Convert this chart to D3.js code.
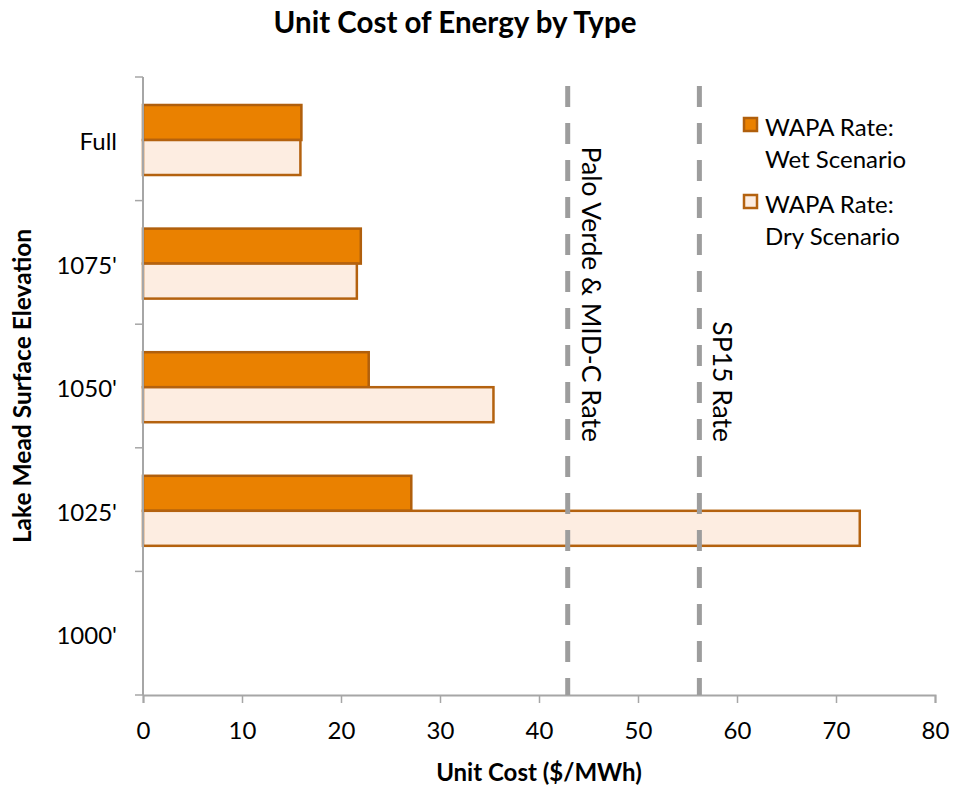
<!DOCTYPE html>
<html>
<head>
<meta charset="utf-8">
<script src="https://cdn.jsdelivr.net/npm/d3@7/dist/d3.min.js"></script>
<style>
  html, body { margin: 0; padding: 0; background: #fff; }
  svg text { font-family: Lato, "Open Sans", sans-serif; fill: #000; }
</style>
</head>
<body>
<svg id="chart" width="953" height="788"></svg>
<script>
// Lake Mead elevation levels (top to bottom)
const categories = ["Full", "1075'", "1050'", "1025'", "1000'"];
// WAPA unit cost, $/MWh (no value at 1000')
const wetValues = [16.0, 22.0, 22.8, 27.1, null];
const dryValues = [15.9, 21.6, 35.4, 72.4, null];
const seriesNames = ["WAPA Rate: Wet Scenario", "WAPA Rate: Dry Scenario"];
const legendLines = [["WAPA Rate:", "Wet Scenario"], ["WAPA Rate:", "Dry Scenario"]];
// Market reference rates, $/MWh
const refRates = [42.9, 56.2];
const refLabels = ["Palo Verde & MID-C Rate", "SP15 Rate"];
const xTicks = [0, 10, 20, 30, 40, 50, 60, 70, 80];

const svg = d3.select("#chart");
const plot = { left: 143, right: 935, top: 77, bottom: 695 };

const x = d3.scaleLinear().domain([0, 80]).range([plot.left, plot.right]);
const y = d3.scaleBand().domain(categories).range([plot.top, plot.bottom]).padding(0);
const bw = y.bandwidth();
const sub = d3.scaleBand().domain([0, 1]).range([bw * 0.2265, bw * 0.793]).padding(0);

const fills = ["#EA8100", "#FDEDE1"];
const strokes = ["#B05F0C", "#B4620F"];
const axisColor = "#A6A6A6";

// Title
svg.append("text")
  .attr("x", 455).attr("y", 33)
  .attr("text-anchor", "middle")
  .attr("font-size", 29.5).attr("font-weight", "bold")
  .text("Unit Cost of Energy by Type");

// Bars
const series = [wetValues, dryValues];
series.forEach((vals, si) => {
  svg.append("g").selectAll("rect")
    .data(categories.map((c, i) => ({ c, v: vals[i] })).filter(d => d.v != null))
    .join("rect")
    .attr("x", x(0))
    .attr("y", d => y(d.c) + sub(si))
    .attr("width", d => x(d.v) - x(0))
    .attr("height", sub.bandwidth())
    .attr("fill", fills[si])
    .attr("stroke", strokes[si])
    .attr("stroke-width", 2.5);
});

// X axis
const xAxis = d3.axisBottom(x).tickValues(xTicks).tickSize(8).tickPadding(19);
const gx = svg.append("g").attr("transform", `translate(0,${plot.bottom})`).call(xAxis);
gx.select(".domain").attr("stroke", axisColor).attr("stroke-width", 2);
gx.selectAll(".tick line").attr("stroke", axisColor).attr("stroke-width", 1.5);
gx.selectAll(".tick text").attr("font-size", 24).attr("font-family", "Lato, sans-serif").attr("fill", "#000");

// Y axis: labels centred in bands, ticks on band boundaries
const yAxis = d3.axisLeft(y).tickSize(0).tickPadding(26);
const gy = svg.append("g").attr("transform", `translate(${plot.left},0)`).call(yAxis);
gy.select(".domain").remove();
gy.selectAll(".tick text").attr("font-size", 24).attr("font-family", "Lato, sans-serif")
  .attr("fill", "#000").attr("dy", "0.47em");
const bounds = categories.map(c => y(c)).concat([y.range()[1]]);
svg.append("g").selectAll("line").data(bounds).join("line")
  .attr("x1", plot.left - 8).attr("x2", plot.left)
  .attr("y1", d => d).attr("y2", d => d)
  .attr("stroke", axisColor).attr("stroke-width", 1.5);
svg.append("line")
  .attr("x1", plot.left).attr("x2", plot.left)
  .attr("y1", plot.top).attr("y2", plot.bottom)
  .attr("stroke", axisColor).attr("stroke-width", 2);

// Reference rate lines
refRates.forEach((r, i) => {
  svg.append("line")
    .attr("x1", x(r)).attr("x2", x(r))
    .attr("y1", plot.bottom).attr("y2", 84)
    .attr("stroke", "#9D9D9D").attr("stroke-width", 5)
    .attr("stroke-dasharray", "21,16")
    .attr("stroke-dashoffset", 4);
  svg.append("text")
    .attr("transform", `translate(${x(r) + 14},442) rotate(90)`)
    .attr("text-anchor", "end")
    .attr("font-size", 26.5)
    .text(refLabels[i]);
});

// Axis titles
svg.append("text")
  .attr("x", 539).attr("y", 781)
  .attr("text-anchor", "middle")
  .attr("font-size", 24).attr("font-weight", "bold")
  .text("Unit Cost ($/MWh)");
svg.append("text")
  .attr("transform", "translate(31,386) rotate(-90)")
  .attr("text-anchor", "middle")
  .attr("font-size", 24.5).attr("font-weight", "bold")
  .text("Lake Mead Surface Elevation");

// Legend
const legend = svg.append("g").attr("transform", "translate(743,117)");
seriesNames.forEach((name, i) => {
  const g = legend.append("g").attr("transform", `translate(0,${i * 77})`);
  g.append("rect").attr("x", 1).attr("y", 1).attr("width", 13).attr("height", 13)
    .attr("fill", fills[i]).attr("stroke", strokes[i]).attr("stroke-width", 2.5);
  legendLines[i].forEach((t, k) => {
    g.append("text").attr("x", 22).attr("y", 19 + k * 32)
      .attr("font-size", 24).text(t);
  });
});
</script>
</body>
</html>
